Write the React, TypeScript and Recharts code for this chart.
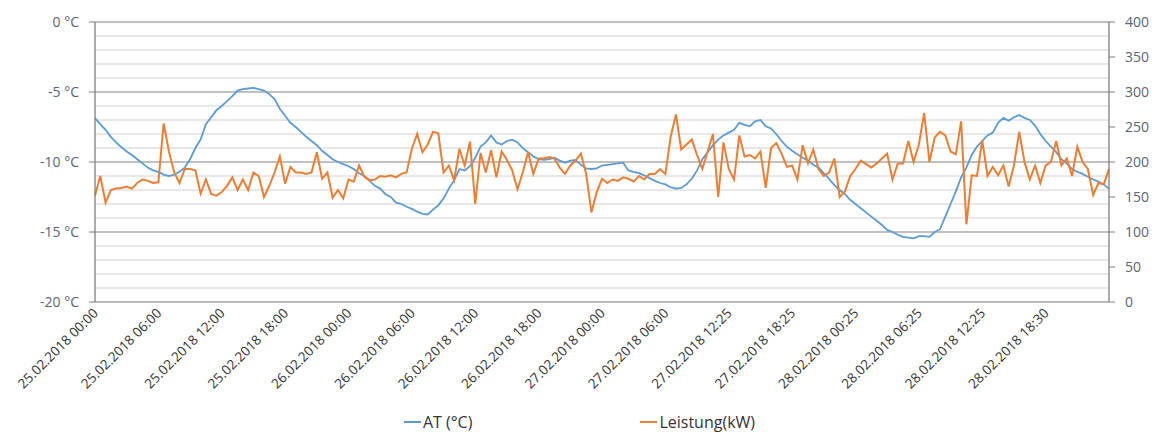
import React from "react";
import {
  LineChart,
  Line,
  XAxis,
  YAxis,
  CartesianGrid,
  ReferenceLine,
  Legend,
} from "recharts";

// one point every 30 min, 25.02.2018 00:00 .. 28.02.2018 24:00
const TEMP = [
  -6.86, -7.3, -7.7, -8.2, -8.6, -8.95, -9.25, -9.5, -9.8, -10.1,
  -10.4, -10.6, -10.7, -10.9, -11.0, -10.9, -10.7, -10.4, -9.8, -9.0,
  -8.4, -7.3, -6.8, -6.3, -6.0, -5.65, -5.3, -4.9, -4.8, -4.75,
  -4.7, -4.8, -4.9, -5.15, -5.5, -6.2, -6.7, -7.2, -7.5, -7.85,
  -8.2, -8.5, -8.8, -9.2, -9.5, -9.8, -10.0, -10.15, -10.3, -10.5,
  -10.8, -11.0, -11.35, -11.7, -11.9, -12.3, -12.5, -12.9, -13.0, -13.2,
  -13.35, -13.55, -13.7, -13.75, -13.4, -13.1, -12.6, -11.9, -11.3, -10.5,
  -10.6, -10.3, -9.7, -8.9, -8.6, -8.1, -8.6, -8.75, -8.5, -8.4,
  -8.6, -9.0, -9.3, -9.6, -9.8, -9.85, -9.8, -9.7, -9.9, -10.05,
  -9.9, -9.85, -10.2, -10.45, -10.5, -10.45, -10.25, -10.2, -10.15, -10.1,
  -10.05, -10.6, -10.7, -10.8, -10.95, -11.15, -11.35, -11.5, -11.6, -11.8,
  -11.9, -11.85, -11.6, -11.2, -10.6, -9.8, -9.3, -8.8, -8.4, -8.1,
  -7.9, -7.7, -7.2, -7.35, -7.45, -7.1, -7.0, -7.45, -7.6, -8.0,
  -8.5, -8.9, -9.2, -9.45, -9.7, -9.9, -10.2, -10.4, -10.8, -11.2,
  -11.65, -12.0, -12.3, -12.7, -13.0, -13.3, -13.6, -13.9, -14.2, -14.5,
  -14.85, -15.0, -15.2, -15.35, -15.4, -15.45, -15.3, -15.3, -15.35, -15.0,
  -14.8, -13.9, -13.0, -12.1, -11.1, -10.4, -9.5, -8.9, -8.5, -8.1,
  -7.9, -7.2, -6.85, -7.05, -6.8, -6.65, -6.85, -7.0, -7.4, -8.0,
  -8.5, -8.9, -9.3, -9.8, -10.1, -10.5, -10.7, -10.85, -11.05, -11.25,
  -11.4, -11.6, -11.9,
];

const POWER = [
  152, 180, 142, 160, 162, 163, 165, 162, 170, 175,
  173, 170, 171, 255, 215, 185, 170, 190, 190, 188,
  155, 175, 154, 152, 157, 166, 178, 160, 175, 160,
  185, 180, 150, 166, 185, 208, 169, 193, 185, 185,
  183, 185, 214, 176, 185, 149, 160, 148, 175, 172,
  195, 179, 174, 175, 180, 179, 181, 178, 183, 185,
  219, 240, 214, 225, 243, 241, 185, 195, 174, 219,
  195, 229, 140, 213, 185, 217, 178, 215, 203, 188,
  161, 185, 214, 183, 205, 205, 207, 205, 192, 183,
  195, 202, 212, 183, 128, 157, 176, 170, 175, 173,
  178, 176, 172, 180, 175, 183, 183, 190, 183, 236,
  268, 218, 225, 232, 210, 190, 215, 240, 150, 228,
  190, 175, 238, 208, 210, 205, 215, 163, 220, 227,
  212, 193, 195, 175, 224, 198, 218, 190, 180, 185,
  205, 150, 158, 180, 190, 202, 197, 192, 198, 205,
  212, 175, 198, 198, 230, 200, 225, 270, 200, 235,
  243, 238, 215, 211, 258, 111, 181, 180, 231, 180,
  193, 181, 195, 165, 195, 243, 200, 175, 195, 170,
  195, 200, 230, 195, 205, 180, 222, 200, 190, 153,
  170, 168, 190,
];

const TICK_LABELS = [
  "25.02.2018 00:00",
  "25.02.2018 06:00",
  "25.02.2018 12:00",
  "25.02.2018 18:00",
  "26.02.2018 00:00",
  "26.02.2018 06:00",
  "26.02.2018 12:00",
  "26.02.2018 18:00",
  "27.02.2018 00:00",
  "27.02.2018 06:00",
  "27.02.2018 12:25",
  "27.02.2018 18:25",
  "28.02.2018 00:25",
  "28.02.2018 06:25",
  "28.02.2018 12:25",
  "28.02.2018 18:30",
];

const TEMP_TICKS = [-20, -15, -10, -5, 0];
const POWER_TICKS = [0, 50, 100, 150, 200, 250, 300, 350, 400];
const MINOR_LINES = [-1, -2, -3, -4, -6, -7, -8, -9, -11, -12, -13, -14, -16, -17, -18, -19];
const MAJOR_LINES = [0, -5, -10, -15];

const STEP = 12; // label every 6 h

const data = TEMP.map((t, i) => ({ i, at: t, kw: POWER[i] }));
const xTicks = TICK_LABELS.map((_, k) => k * STEP);

const FONT = "'Open Sans', sans-serif";
const BLUE = "#5b9bd5";
const ORANGE = "#ed7d31";

const DateTick = ({ x, y, payload }: any) => (
  <g transform={`translate(${x + 4},${y + 4})`}>
    <text
      x={0}
      y={0}
      textAnchor="end"
      transform="rotate(-45)"
      fontFamily={FONT}
      fontSize={13.5}
      fill="#333"
    >
      {TICK_LABELS[Math.round(payload.value / STEP)]}
    </text>
  </g>
);

const LegendBox = () => (
  <div
    style={{
      display: "flex",
      justifyContent: "center",
      alignItems: "center",
      gap: 168,
      height: 38,
      paddingTop: 17,
      boxSizing: "border-box",
      fontFamily: FONT,
      fontSize: 16,
      color: "#333",
    }}
  >
    {[
      { name: "AT (°C)", color: BLUE },
      { name: "Leistung(kW)", color: ORANGE },
    ].map((it) => (
      <span key={it.name} style={{ display: "flex", alignItems: "center" }}>
        <svg width={17} height={4} style={{ marginRight: 2 }}>
          <line x1={0} y1={2} x2={17} y2={2} stroke={it.color} strokeWidth={2} />
        </svg>
        {it.name}
      </span>
    ))}
  </div>
);

export default function App() {
  return (
    <div style={{ position: "absolute", left: 0, top: 0, background: "#fff" }}>
      <LineChart
        width={1159}
        height={432}
        data={data}
        margin={{ top: 22, right: 0, bottom: 0, left: 0 }}
      >
        <CartesianGrid
          yAxisId="left"
          vertical={false}
          horizontalValues={MAJOR_LINES}
          stroke="#ababab"
          strokeWidth={1.3}
        />
        {MINOR_LINES.map((v) => (
          <ReferenceLine
            key={v}
            yAxisId="left"
            y={v}
            stroke="#e1e1e1"
            strokeWidth={1.5}
          />
        ))}
        <XAxis
          dataKey="i"
          type="number"
          domain={[0, TEMP.length - 1]}
          ticks={xTicks}
          interval={0}
          height={92}
          tickLine={false}
          axisLine={{ stroke: "#a6a6a6", strokeWidth: 1.3 }}
          tick={<DateTick />}
        />
        <YAxis
          yAxisId="left"
          domain={[-20, 0]}
          ticks={TEMP_TICKS}
          width={95}
          tickSize={6}
          tickMargin={10}
          tickFormatter={(v) => `${v} °C`}
          axisLine={{ stroke: "#7f7f7f", strokeWidth: 1.3 }}
          tickLine={{ stroke: "#7f7f7f" }}
          tick={{ fill: "#5a6475", fontFamily: FONT, fontSize: 14 }}
        />
        <YAxis
          yAxisId="right"
          orientation="right"
          domain={[0, 400]}
          ticks={POWER_TICKS}
          width={50}
          tickSize={6}
          tickMargin={10}
          axisLine={{ stroke: "#7f7f7f", strokeWidth: 1.3 }}
          tickLine={{ stroke: "#7f7f7f" }}
          tick={{ fill: "#5a6475", fontFamily: FONT, fontSize: 14, textAnchor: "start" }}
        />
        <Legend verticalAlign="bottom" height={38} content={<LegendBox />} />
        <Line
          yAxisId="left"
          dataKey="at"
          name="AT (°C)"
          type="linear"
          stroke={BLUE}
          strokeWidth={1.8}
          dot={false}
          isAnimationActive={false}
        />
        <Line
          yAxisId="right"
          dataKey="kw"
          name="Leistung(kW)"
          type="linear"
          stroke={ORANGE}
          strokeWidth={2}
          dot={false}
          isAnimationActive={false}
        />
      </LineChart>
    </div>
  );
}
